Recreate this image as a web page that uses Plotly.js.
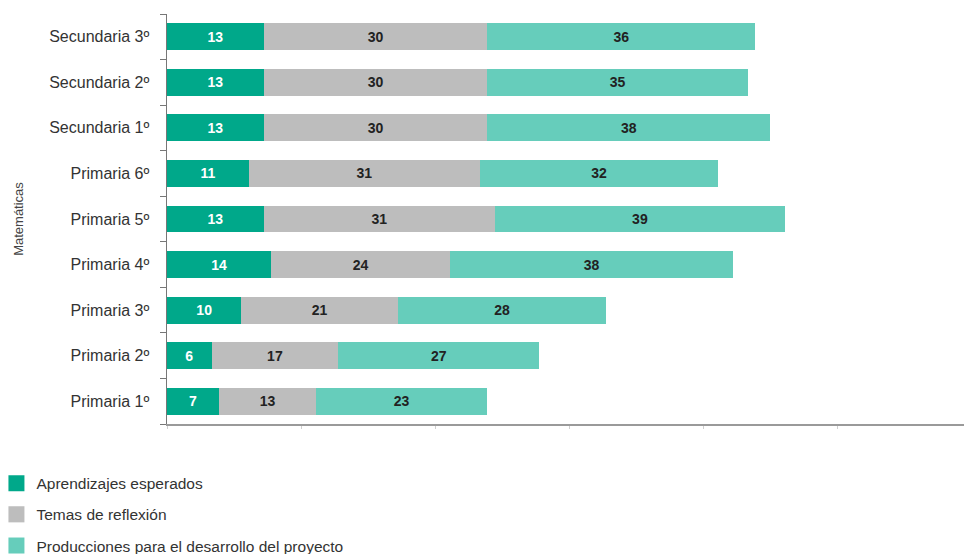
<!DOCTYPE html>
<html>
<head>
<meta charset="utf-8">
<script src="https://cdn.plot.ly/plotly-3.0.1.min.js"></script>
<style>html,body{margin:0;padding:0;background:#fff;}#chart{width:964px;height:554px;}</style>
</head>
<body>
<div id="chart"></div>
<script>
const categories = ["Primaria 1º","Primaria 2º","Primaria 3º","Primaria 4º","Primaria 5º","Primaria 6º","Secundaria 1º","Secundaria 2º","Secundaria 3º"];
const aprendizajes = [7, 6, 10, 14, 13, 11, 13, 13, 13];
const temas = [13, 17, 21, 24, 31, 31, 30, 30, 30];
const producciones = [23, 27, 28, 38, 39, 32, 38, 35, 36];
const seriesNames = ["Aprendizajes esperados","Temas de reflexión","Producciones para el desarrollo del proyecto"];
const colors = ["#00A88A","#BDBDBD","#66CDBB"];
const textColors = ["#ffffff","#222222","#222222"];
const axisTitle = "Matemáticas";

const FONT = "Liberation Sans, Arial, sans-serif";
const vals = [aprendizajes, temas, producciones];
const traces = vals.map((v,i)=>({
  type:"bar", orientation:"h", x:v, y:categories, name:seriesNames[i],
  showlegend:false,
  marker:{color:colors[i], line:{width:0}},
  text:v.map(String), textposition:"inside", insidetextanchor:"middle",
  textfont:{family:FONT, size:14, color:textColors[i], weight:"bold"},
  constraintext:"none", hoverinfo:"x+name"
}));
// legend entries (square swatches)
seriesNames.forEach((n,i)=>{
  traces.push({type:"scatter", mode:"markers", x:[null], y:[null], name:n,
    legendgroup:"g"+i, showlegend:true,
    marker:{symbol:"square", size:16, color:colors[i]}, hoverinfo:"skip"});
});

const layout = {
  width:964, height:554,
  margin:{l:167, r:0, t:14, b:130, autoexpand:false},
  barmode:"stack", bargap:0.41,
  paper_bgcolor:"#fff", plot_bgcolor:"#fff",
  font:{family:FONT, size:15, color:"#333"},
  showlegend:true,
  legend:{xref:"paper", yref:"paper", x:-0.214, y:-0.104, xanchor:"left", yanchor:"top",
          traceorder:"grouped", tracegroupgap:8, itemsizing:"trace",
          font:{size:15.5, color:"#333"}, itemwidth:30},
  xaxis:{range:[0,107], dtick:18, tick0:0, showticklabels:false, showgrid:false, zeroline:false,
         showline:true, linecolor:"#9a9a9a", linewidth:2, ticks:"outside", ticklen:3, tickcolor:"#cfcfcf",
         automargin:false},
  yaxis:{showgrid:false, zeroline:false, showline:true, linecolor:"#777", linewidth:1.5,
         ticks:"outside", ticklen:6, tickcolor:"#777", tickson:"boundaries",
         ticklabelstandoff:13, tickfont:{size:16, color:"#333"}, automargin:false,
         title:{text:axisTitle, standoff:22, font:{size:13, color:"#444"}}}
};
Plotly.newPlot("chart", traces, layout, {displayModeBar:false, staticPlot:true});
</script>
</body>
</html>
